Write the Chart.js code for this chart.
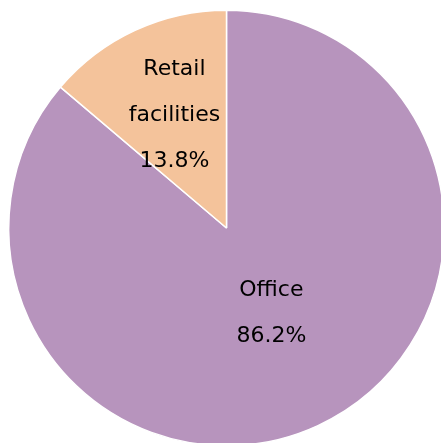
<!DOCTYPE html>
<html>
<head>
<meta charset="utf-8">
<script src="https://cdn.jsdelivr.net/npm/chart.js@4/dist/chart.umd.min.js"></script>
<style>
  html, body { margin: 0; padding: 0; background: #fff; overflow: hidden; }
  #wrap { width: 453px; height: 456px; position: relative; }
</style>
</head>
<body>
<div id="wrap"><canvas id="chart"></canvas></div>
<script>
const categories = ["Office", "Retail facilities"];
const labelLines = [["Office"], ["Retail", "facilities"]];
const shares = [86.2, 13.8];
const colors = ["#b794bd", "#f4c39b"];

// label placement: fraction of radius, and small turn (degrees) off the slice middle
const labelDist = [0.444, 0.569];
const labelTurn = [-2.8, 0];

const sliceLabels = {
  id: "sliceLabels",
  afterDatasetsDraw(chart) {
    const ctx = chart.ctx;
    const meta = chart.getDatasetMeta(0);
    ctx.save();
    ctx.font = "22px 'DejaVu Sans'";
    ctx.fillStyle = "#000";
    ctx.textAlign = "center";
    ctx.textBaseline = "middle";
    meta.data.forEach((arc, i) => {
      const mid = (arc.startAngle + arc.endAngle) / 2 + labelTurn[i] * Math.PI / 180;
      const r = arc.outerRadius * labelDist[i];
      const cx = arc.x + Math.cos(mid) * r;
      const cy = arc.y + Math.sin(mid) * r;
      const lines = labelLines[i].concat([shares[i].toFixed(1) + "%"]);
      const step = 46;
      const top = cy - (lines.length - 1) * step / 2;
      lines.forEach((t, j) => ctx.fillText(t, cx, top + j * step));
    });
    ctx.restore();
  }
};

new Chart(document.getElementById("chart"), {
  type: "pie",
  data: {
    labels: categories,
    datasets: [{
      data: shares,
      backgroundColor: colors,
      borderColor: "#ffffff",
      borderWidth: 1.5
    }]
  },
  options: {
    responsive: true,
    maintainAspectRatio: false,
    animation: false,
    layout: { padding: 8 },
    plugins: {
      legend: { display: false },
      tooltip: { enabled: false }
    }
  },
  plugins: [sliceLabels]
});
</script>
</body>
</html>
